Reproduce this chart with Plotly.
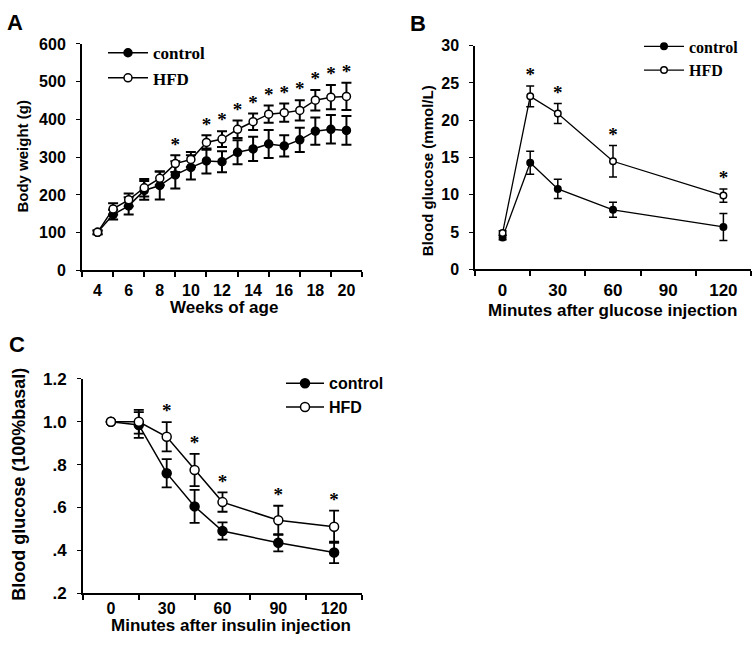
import plotly.graph_objects as go

# ---------------- data ----------------
weeks = list(range(4, 21))
bw_control = [101, 148, 171, 212, 225, 253, 273, 290, 288, 313, 322, 335, 330, 346, 369, 374, 371]
bw_control_err = [5, 13, 23, 25, 37, 36, 32, 33, 28, 32, 32, 37, 28, 32, 36, 38, 38]
bw_hfd = [101, 163, 187, 219, 244, 283, 294, 339, 348, 374, 394, 414, 418, 424, 451, 459, 461]
bw_hfd_err = [5, 15, 17, 23, 18, 22, 20, 19, 21, 23, 22, 23, 24, 27, 27, 32, 36]
bw_sig_weeks = [9, 11, 12, 13, 14, 15, 16, 17, 18, 19, 20]
bw_xtick_labels = [4, 6, 8, 10, 12, 14, 16, 18, 20]

gtt_time = [0, 15, 30, 60, 120]
gtt_control = [4.3, 14.3, 10.8, 8.0, 5.7]
gtt_control_err = [0.3, 1.55, 1.3, 1.0, 1.8]
gtt_hfd = [4.9, 23.2, 20.9, 14.5, 9.9]
gtt_hfd_err = [0.3, 1.4, 1.35, 2.1, 0.9]
gtt_sig_times = [15, 30, 60, 120]

itt_time = [0, 15, 30, 45, 60, 90, 120]
itt_control = [1.0, 0.985, 0.76, 0.605, 0.49, 0.435, 0.39]
itt_control_err = [0, 0.06, 0.066, 0.077, 0.04, 0.04, 0.05]
itt_hfd = [1.0, 1.0, 0.93, 0.775, 0.625, 0.54, 0.51]
itt_hfd_err = [0, 0.055, 0.068, 0.075, 0.045, 0.068, 0.075]
itt_sig_times = [30, 45, 60, 90, 120]

time_labels = [0, 30, 60, 90, 120]
itt_ytick_vals = [0.2, 0.4, 0.6, 0.8, 1.0, 1.2]
itt_ytick_text = [".2", ".4", ".6", ".8", "1.0", "1.2"]

# ---------------- helpers ----------------
W, H = 756, 652
def px(x):
    return x / W
def py(y):
    return 1 - y / H

SANS = "Liberation Sans"
SERIF = "Liberation Serif"

fig = go.Figure()

def add_panel(xs, ctrl, ctrl_err, hfd, hfd_err, sig, xa, ya, legend, msize, capw, lw, ebw, star_size):
    fig.add_trace(go.Scatter(
        x=xs, y=ctrl, name="control", mode="lines+markers", xaxis=xa, yaxis=ya, legend=legend,
        line=dict(color="black", width=lw),
        marker=dict(symbol="circle", size=msize, color="black", line=dict(color="black", width=1.5)),
        error_y=dict(type="data", array=ctrl_err, visible=True, color="black", thickness=ebw, width=capw),
    ))
    fig.add_trace(go.Scatter(
        x=xs, y=hfd, name="HFD", mode="lines+markers", xaxis=xa, yaxis=ya, legend=legend,
        line=dict(color="black", width=lw),
        marker=dict(symbol="circle", size=msize, color="white", line=dict(color="black", width=1.5)),
        error_y=dict(type="data", array=hfd_err, visible=True, color="black", thickness=ebw, width=capw),
    ))
    sx = [x for x in xs if x in sig]
    sy = [hfd[i] + hfd_err[i] for i, x in enumerate(xs) if x in sig]
    fig.add_trace(go.Scatter(
        x=sx, y=sy, mode="text", text=["*"] * len(sx), textposition="top center",
        textfont=dict(family=SERIF, size=star_size, color="black", weight="bold"),
        xaxis=xa, yaxis=ya, showlegend=False, hoverinfo="skip",
    ))

add_panel(weeks, bw_control, bw_control_err, bw_hfd, bw_hfd_err, bw_sig_weeks,
          "x", "y", "legend", 8, 5, 1.5, 2, 19)
add_panel(gtt_time, gtt_control, gtt_control_err, gtt_hfd, gtt_hfd_err, gtt_sig_times,
          "x2", "y2", "legend2", 6.5, 4, 1.3, 1.5, 19)
add_panel(itt_time, itt_control, itt_control_err, itt_hfd, itt_hfd_err, itt_sig_times,
          "x3", "y3", "legend3", 9, 5, 1.5, 1.8, 19)

axis_common = dict(showline=True, linecolor="black", showgrid=False, zeroline=False,
                   ticks="", mirror=False)

def xaxis(domain, rng, labels, minor_vals, anchor, size, lw, standoff):
    return dict(axis_common, domain=domain, range=rng, anchor=anchor, linewidth=lw,
                tickmode="array", tickvals=labels, ticktext=[str(v) for v in labels],
                ticklabelstandoff=standoff,
                tickfont=dict(family=SANS, size=size, color="black", weight="bold"),
                minor=dict(tickmode="array", tickvals=minor_vals, ticks="outside",
                           ticklen=5, tickwidth=1.5, tickcolor="black"))

def yaxis(domain, rng, vals, text, anchor, size, lw):
    return dict(axis_common, domain=domain, range=rng, anchor=anchor, linewidth=lw,
                tickmode="array", tickvals=vals, ticktext=text, ticks="outside",
                ticklen=4, tickwidth=1.2, tickcolor="black", ticklabelstandoff=7,
                tickfont=dict(family=SANS, size=size, color="black", weight="bold"))

bw_yvals = list(range(0, 601, 100))
gtt_yvals = list(range(0, 31, 5))

fig.update_layout(
    width=W, height=H, paper_bgcolor="white", plot_bgcolor="white",
    margin=dict(l=0, r=0, t=0, b=0),
    xaxis=xaxis([px(82), px(362)], [3, 21], bw_xtick_labels, list(range(3, 22, 2)), "y", 16, 2, 4),
    yaxis=yaxis([py(269.3), py(36)], [0, 600], bw_yvals, [str(v) for v in bw_yvals], "x", 16, 2),
    xaxis2=xaxis([px(475), px(751)], [-15, 135], time_labels, list(range(-15, 136, 30)), "y2", 17, 1.5, 4),
    yaxis2=yaxis([py(268.3), py(37.7)], [0, 30], gtt_yvals, [str(v) for v in gtt_yvals], "x2", 16, 1.5),
    xaxis3=xaxis([px(83), px(362)], [-15, 135], time_labels, list(range(-15, 136, 30)), "y3", 16, 2, 0),
    yaxis3=yaxis([py(601.7), py(381)], [0.2, 1.2], itt_ytick_vals, itt_ytick_text, "x3", 17, 2),
    legend=dict(x=px(103), y=py(27), xanchor="left", yanchor="top", bgcolor="rgba(0,0,0,0)",
                itemwidth=40,
                font=dict(family=SERIF, size=17, color="black", weight="bold"), tracegroupgap=0),
    legend2=dict(x=px(639), y=py(21), xanchor="left", yanchor="top", bgcolor="rgba(0,0,0,0)",
                 itemwidth=40,
                 font=dict(family=SERIF, size=16, color="black", weight="bold"), tracegroupgap=0),
    legend3=dict(x=px(281), y=py(368), xanchor="left", yanchor="top", bgcolor="rgba(0,0,0,0)",
                 itemwidth=38,
                 font=dict(family=SANS, size=16, color="black", weight="bold"), tracegroupgap=0),
    showlegend=True,
)

def ann(text, x, y, size, angle=0):
    fig.add_annotation(text=text, x=px(x), y=py(y), xref="paper", yref="paper",
                       xanchor="center", yanchor="middle", showarrow=False, textangle=angle,
                       font=dict(family=SANS, size=size, color="black", weight="bold"))

ann("A", 15, 14, 22)
ann("B", 418, 15, 22)
ann("C", 17, 346, 22)
ann("Body weight (g)", 23, 152, 15, -90)
ann("Weeks of age", 224, 307, 17)
ann("Blood glucose (mmol/L)", 427, 166, 15, -90)
ann("Minutes after glucose injection", 612, 311, 17)
ann("Blood glucose (100%basal)", 19, 490, 18, -90)
ann("Minutes after insulin injection", 231, 635, 17)

fig.write_html("out.html", config={"displayModeBar": False},
               post_script="document.body.style.margin='0';document.body.style.overflow='hidden';")
